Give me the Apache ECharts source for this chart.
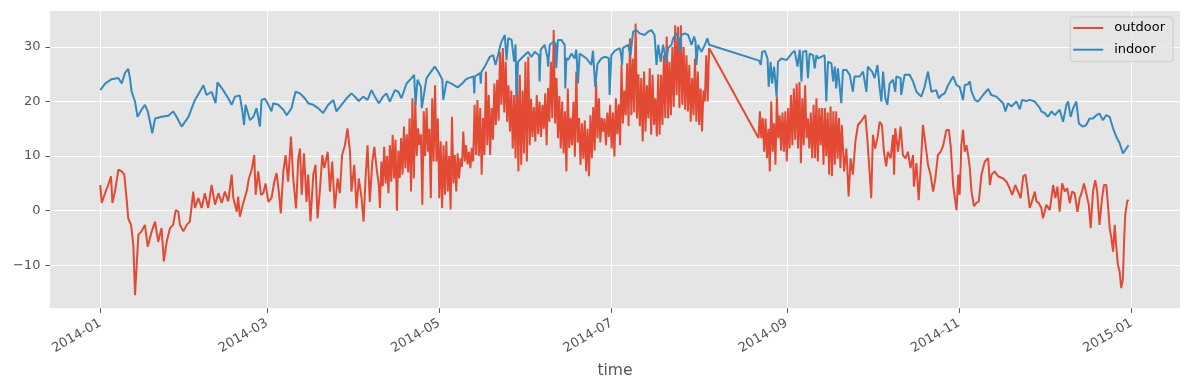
<!DOCTYPE html>
<html>
<head>
<meta charset="utf-8">
<script src="https://cdn.jsdelivr.net/npm/echarts@6/dist/echarts.min.js"></script>
<style>
html,body{margin:0;padding:0;background:#fff;}
#chart{width:1189px;height:390px;}
</style>
</head>
<body>
<div id="chart"></div>
<script>
// x values are days since 2014-01-01
const tickDays = [0, 59, 120, 181, 243, 304, 365];
const tickLabels = ['2014-01', '2014-03', '2014-05', '2014-07', '2014-09', '2014-11', '2015-01'];
const yTicks = [-10, 0, 10, 20, 30];
const seriesNames = ['outdoor', 'indoor'];

// outdoor, sparser stretches (Jan - early Apr, mid Sep - Dec)
const outdoorDays = [
0.0,0.5,1.7,2.8,3.8,4.3,5.2,6.4,7.6,8.5,9.3,9.9,10.9,11.7,12.3,12.9,13.5,14.6,15.8,16.8,18.2,19.4,20.5,21.7,22.5,23.5,24.7,25.8,26.7,27.6,28.2,29.4,30.6,31.7,32.9,33.5,34.7,35.9,37.0,38.2,39.4,40.6,41.8,43.0,44.1,45.3,46.5,47.1,48.3,48.8,49.4,
50.6,51.8,52.6,53.6,54.5,55.0,55.9,56.9,57.7,58.5,59.5,60.6,61.6,62.4,63.2,63.9,64.8,65.6,66.5,67.5,68.3,69.3,70.1,70.7,71.3,72.1,73.0,73.6,74.4,75.4,76.2,76.9,77.7,78.6,79.3,80.5,81.3,82.1,83.0,84.0,84.8,85.6,86.6,87.5,88.4,88.9,89.9,90.7,91.5,92.5,93.2,93.9,94.6,95.4,96.3,97.0,97.8,98.6,
262.5,263.3,264.1,264.9,265.6,266.4,267.3,268.2,269.2,270.0,270.8,271.5,272.3,272.9,273.5,274.3,275.1,275.9,276.7,277.4,278.2,278.8,279.8,280.6,281.0,281.4,282.4,283.3,284.1,285.0,285.9,286.8,287.7,288.0,288.9,289.7,290.4,291.2,292.0,293.0,293.9,294.8,295.6,296.5,
297.5,298.4,298.9,299.5,300.4,301.1,301.9,302.5,303.1,303.7,304.2,304.8,305.4,306.0,306.6,307.2,307.8,308.4,309.3,310.1,311.0,311.9,313.1,314.3,314.9,315.5,316.6,317.8,319.6,320.8,321.9,322.8,323.9,324.9,325.8,326.7,327.5,328.2,329.0,329.8,330.8,331.4,332.2,333.1,333.7,334.9,336.1,337.3,338.1,338.8,339.6,340.5,341.4,342.3,343.2,344.0,344.9,345.9,346.7,
347.5,348.2,349.0,349.9,350.6,351.4,352.2,352.9,353.7,354.6,355.3,356.1,356.7,357.3,357.9,358.5,359.1,359.6,360.2,360.8,361.4,362.0,362.4,362.8,363.5,364.0
];
const outdoorTemps = [
4.7,1.4,3.2,4.7,6.3,1.4,3.5,7.5,7.2,6.6,2.3,-1.4,-2.6,-6.3,-15.5,-9.9,-4.4,-3.8,-2.6,-6.6,-3.8,-2.0,-5.7,-3.2,-9.3,-5.7,-3.2,-2.6,0.1,-0.2,-2.6,-3.8,-2.6,-2.0,3.5,0.5,2.3,0.5,3.2,0.5,4.7,1.1,3.2,1.4,3.5,1.7,6.6,2.3,-0.2,2.6,-1.1,
1.4,3.5,5.9,7.5,10.2,2.9,7.2,2.9,3.2,5.0,1.6,2.3,5.3,6.9,3.5,-0.5,7.2,10.2,5.3,13.6,5.9,0.4,9.6,11.4,2.9,10.5,1.6,6.6,-2.0,6.6,8.4,-1.4,3.5,10.2,7.8,10.8,3.5,9.0,0.4,5.9,3.2,10.2,12.0,15.1,10.8,3.5,8.4,0.4,5.9,2.3,-2.0,5.9,12.0,1.6,9.0,11.7,7.8,4.7,
15.7,7.2,11.4,2.6,9.6,6.6,12.7,15.7,16.3,16.9,17.5,13.3,7.2,2.3,13.9,11.4,13.3,16.3,15.7,10.8,8.1,10.8,9.6,13.9,6.6,15.1,10.8,15.4,10.2,9.6,10.8,7.8,10.2,4.4,8.7,1.9,7.8,15.7,12.7,8.4,6.6,3.5,5.9,10.2,
10.8,12.0,13.3,14.8,14.8,11.4,4.7,2.3,0.1,6.6,2.9,12.0,14.8,10.8,12.0,10.2,7.8,3.5,0.8,1.4,1.7,6.6,9.0,9.6,4.7,6.6,7.2,6.3,5.9,5.3,4.1,2.9,4.7,3.5,2.3,6.3,6.6,4.1,0.5,1.7,3.5,1.7,1.4,0.5,-1.4,1.1,0.1,4.7,2.3,4.4,-0.2,5.0,3.5,4.1,1.4,3.5,3.2,-0.2,2.3,
3.5,5.0,3.2,1.1,-3.2,3.5,5.6,3.5,-2.6,2.3,4.7,4.7,1.1,-3.2,-5.0,-7.5,-2.6,-6.3,-9.9,-11.1,-14.2,-12.4,-5.7,-0.8,1.7,2.0
];

// outdoor, day/night swings: April - mid May  [day, temp]
const outdoorSpring = [
[99.0,0.5],[99.5,9.0],[100.0,4.5],[100.5,11.7],[101.0,5.0],[101.5,10.0],[102.0,3.2],[102.5,12.0],[103.0,5.3],[103.5,13.9],[104.0,5.9],[104.5,13.0],[105.0,0.0],[105.5,11.0],[106.0,6.0],[106.5,13.3],[107.0,6.6],[107.5,15.4],[108.0,7.8],[108.5,14.0],[109.0,7.0],[109.5,16.9],
[110.0,3.5],[110.5,20.6],[111.0,5.9],[111.5,20.0],[112.0,10.0],[112.5,15.1],[113.0,12.0],[113.5,14.0],[114.0,1.1],[114.5,18.2],[115.0,10.0],[115.5,18.8],[116.0,10.8],[116.5,15.0],[117.0,2.3],[117.5,20.6],[118.0,9.0],[118.5,23.0],[119.0,9.0],[119.5,16.9],
[120.0,2.3],[120.5,12.7],[121.0,0.5],[121.5,12.0],[122.0,2.9],[122.5,12.7],[123.0,3.5],[123.5,10.0],[124.0,0.2],[124.5,17.2],[125.0,5.0],[125.5,10.2],[126.0,3.5],[126.5,10.5],[127.0,5.9],[127.5,9.6],[128.0,8.0],[128.5,14.5],[129.0,9.0],[129.5,12.0],
[130.0,8.5],[130.5,10.8],[131.0,7.8],[131.5,11.5],[132.0,9.0],[132.5,19.4],[133.0,10.2],[133.5,20.3],[134.0,10.0],[134.5,18.8],[135.0,6.6],[135.5,17.0],[136.0,10.2],[136.5,25.5],[137.0,12.0],[137.5,21.2],[138.0,10.2],[138.5,18.8],[139.0,13.0],[139.5,23.3]
];
// outdoor, dense day/night swings: mid May - early Aug  [day, temp]
const outdoorSummer = [
[140.0,15.7],[140.5,24.0],[141.0,16.5],[141.5,29.1],[142.0,19.4],[142.5,29.8],[143.0,18.0],[143.5,27.3],[144.0,16.3],[144.5,23.0],[145.0,14.5],[145.5,22.0],[146.0,11.4],[146.5,21.2],[147.0,9.6],[147.5,25.5],[148.0,7.2],[148.5,24.9],[149.0,8.4],[149.5,22.0],
[150.0,10.5],[150.5,27.3],[151.0,9.0],[151.5,28.2],[152.0,12.0],[152.5,20.5],[153.0,13.5],[153.5,19.0],[154.0,12.7],[154.5,21.2],[155.0,14.0],[155.5,20.0],[156.0,13.5],[156.5,19.4],[157.0,15.0],[157.5,21.5],[158.0,12.0],[158.5,22.5],[159.0,16.3],[159.5,27.3],
[160.0,17.0],[160.5,33.1],[161.0,16.0],[161.5,24.3],[162.0,13.3],[162.5,21.0],[163.0,11.4],[163.5,20.0],[164.0,10.5],[164.5,18.2],[165.0,7.2],[165.5,22.4],[166.0,11.5],[166.5,17.0],[167.0,12.0],[167.5,20.0],[168.0,9.9],[168.5,25.5],[169.0,12.5],[169.5,17.0],
[170.0,8.4],[170.5,16.0],[171.0,9.5],[171.5,16.5],[172.0,7.2],[172.5,15.0],[173.0,6.3],[173.5,17.5],[174.0,9.6],[174.5,19.0],[175.0,11.0],[175.5,23.7],[176.0,13.3],[176.5,20.6],[177.0,12.5],[177.5,17.0],[178.0,14.5],[178.5,16.9],[179.0,12.0],[179.5,18.0],
[180.0,13.5],[180.5,19.4],[181.0,11.4],[181.5,18.0],[182.0,9.9],[182.5,20.6],[183.0,14.0],[183.5,19.5],[184.0,12.0],[184.5,26.7],[185.0,16.0],[185.5,22.0],[186.0,17.5],[186.5,27.0],[187.0,15.5],[187.5,31.6],[188.0,17.5],[188.5,27.9],[189.0,18.0],[189.5,34.3],
[190.0,16.9],[190.5,25.0],[191.0,15.5],[191.5,24.3],[192.0,12.7],[192.5,25.5],[193.0,14.5],[193.5,23.0],[194.0,16.9],[194.5,26.1],[195.0,13.9],[195.5,24.9],[196.0,15.7],[196.5,20.6],[197.0,13.6],[197.5,25.0],[198.0,13.9],[198.5,24.9],[199.0,15.7],[199.5,28.5],
[200.0,17.0],[200.5,31.9],[201.0,16.9],[201.5,27.3],[202.0,17.5],[202.5,30.0],[203.0,19.0],[203.5,34.0],[204.0,21.2],[204.5,33.7],[205.0,18.8],[205.5,34.0],[206.0,19.4],[206.5,30.0],[207.0,18.5],[207.5,28.5],[208.0,18.2],[208.5,26.7],[209.0,16.3],[209.5,24.3],
[210.0,17.5],[210.5,27.9],[211.0,16.3],[211.5,25.5],[212.0,15.7],[212.5,22.4],[213.0,14.5],[213.5,22.0],[214.0,20.0],[214.5,28.5],[215.0,20.0],[215.5,29.8]
];
// outdoor, late Aug - mid Sep after the logging gap  [day, temp]
const outdoorSeptember = [
[233.0,13.3],[233.5,18.2],[234.0,13.3],[234.5,17.0],[235.0,10.8],[235.5,16.9],[236.0,9.6],[236.5,15.0],[237.0,7.2],[237.5,20.0],[238.0,10.8],[238.5,16.0],[239.0,8.4],[239.5,20.9],
[240.0,13.3],[240.5,17.5],[241.0,11.0],[241.5,18.0],[242.0,10.8],[242.5,18.2],[243.0,9.0],[243.5,18.8],[244.0,11.4],[244.5,21.2],[245.0,12.0],[245.5,22.4],[246.0,13.0],[246.5,23.3],[247.0,11.4],[247.5,23.6],[248.0,8.7],[248.5,20.6],[249.0,12.0],[249.5,23.0],
[250.0,13.3],[250.5,16.9],[251.0,11.4],[251.5,18.0],[252.0,9.6],[252.5,19.4],[253.0,9.6],[253.5,20.6],[254.0,9.0],[254.5,18.8],[255.0,12.0],[255.5,18.8],[256.0,8.4],[256.5,18.8],[257.0,10.0],[257.5,18.0],[258.0,6.6],[258.5,19.1],[259.0,6.3],[259.5,18.2],
[260.0,8.4],[260.5,18.2],[261.0,9.5],[261.5,17.0],[262.0,7.8]
];

const indoorDays = [
0.0,1.7,4.0,6.4,7.6,8.7,9.9,10.5,11.1,12.3,13.2,14.6,15.8,16.8,17.6,18.4,19.4,21.7,24.1,25.8,27.0,28.8,31.2,33.5,35.9,36.5,37.6,39.4,40.8,41.5,43.5,45.3,46.5,47.7,49.4,
50.3,50.9,51.4,53.0,54.2,55.3,56.5,57.1,58.3,59.5,60.6,61.2,63.0,64.8,66.0,67.7,69.1,70.7,72.4,73.6,75.4,77.1,78.9,80.7,82.5,83.6,85.4,87.2,88.9,90.1,91.5,93.1,94.6,96.0,97.2,98.6,
100.1,101.3,102.5,104.3,105.5,106.6,108.4,110.2,111.1,111.6,112.3,113.5,113.8,115.5,116.7,118.4,119.6,121.1,121.4,122.6,124.3,126.5,128.1,129.3,130.2,132.1,132.4,132.6,134.4,134.7,134.9,136.1,137.9,139.1,139.9,140.8,141.8,143.2,143.8,144.4,145.6,146.5,147.0,147.3,147.9,
149.6,151.4,152.6,153.8,155.3,155.5,155.9,157.3,158.3,158.5,159.1,160.6,161.2,161.4,162.0,163.2,164.4,164.6,165.0,165.6,166.8,167.9,168.5,169.1,169.7,170.3,172.1,173.8,174.4,175.2,176.0,177.4,178.5,180.0,180.3,180.9,182.1,183.9,184.4,184.7,185.0,185.6,186.8,187.7,188.6,189.8,190.9,192.7,193.9,195.1,196.2,
196.9,197.5,198.4,199.2,200.4,201.0,202.2,202.8,204.0,204.8,205.1,205.7,206.9,208.1,209.3,210.2,210.7,211.0,211.6,212.8,214.0,214.9,215.5,
233.2,233.8,234.3,235.2,236.2,236.6,237.3,237.8,238.5,239.4,239.9,241.1,242.9,244.7,245.8,246.8,247.6,
248.2,248.7,249.9,250.5,251.1,252.3,252.9,253.5,254.1,255.2,256.4,257.0,257.6,258.8,259.4,260.0,260.5,261.1,262.3,262.9,264.1,265.3,266.4,267.0,268.8,270.0,271.2,271.7,273.2,274.1,275.1,275.9,276.5,277.1,277.9,278.6,279.4,280.6,281.4,281.8,283.3,283.5,284.7,286.5,287.7,288.9,290.6,291.8,293.0,294.2,295.9,296.8,
297.8,298.9,300.1,301.9,303.1,304.2,305.4,306.0,307.2,307.8,308.4,309.6,310.7,312.5,314.3,315.4,317.2,318.4,319.6,320.4,321.3,322.5,324.3,325.5,326.3,327.8,329.0,330.8,332.6,333.1,334.3,335.5,336.7,337.9,339.6,340.8,342.0,342.6,343.5,344.4,345.5,346.4,
347.8,349.0,350.2,351.4,352.6,353.7,354.9,356.1,357.3,358.5,359.6,360.8,362.0,362.6,363.2,364.0
];
const indoorTemps = [
22.1,23.3,24.1,24.3,23.3,25.2,26.0,24.3,21.8,20.0,17.2,18.5,19.4,18.2,16.3,14.2,16.9,17.2,17.4,18.2,17.2,15.4,17.2,20.3,22.4,23.0,21.2,21.8,19.7,23.5,22.1,20.6,19.4,20.9,21.1,
18.2,15.7,19.4,16.6,17.2,18.8,15.4,20.3,20.5,19.4,18.2,19.7,19.4,18.5,17.5,18.8,21.8,21.5,20.6,19.7,19.4,18.8,17.9,19.4,20.3,18.2,19.4,20.6,21.5,20.9,20.1,20.9,20.3,22.1,20.9,19.7,
20.9,21.5,20.0,22.1,21.8,20.6,23.3,24.3,24.9,19.4,24.0,22.7,18.8,24.3,25.2,26.4,25.5,24.0,20.3,23.7,23.3,22.6,23.3,24.0,24.3,24.6,21.5,24.6,25.2,23.3,25.4,26.4,28.2,28.5,26.7,28.5,30.7,32.2,27.6,31.6,31.3,27.3,30.5,20.9,27.3,
28.2,29.1,28.2,29.1,28.5,23.7,29.5,30.4,28.0,26.4,30.4,31.0,30.5,26.1,31.3,31.3,30.4,22.4,28.0,27.6,28.8,27.9,29.5,23.3,28.8,28.5,27.9,26.7,29.3,22.7,26.9,27.9,28.2,28.0,21.2,28.5,29.3,29.8,28.5,26.7,29.8,30.1,30.4,28.5,32.8,33.1,32.5,32.2,32.8,33.1,32.2,
26.7,30.4,27.3,30.4,27.3,29.8,30.4,31.6,32.5,31.5,29.1,32.2,32.5,32.2,30.4,31.9,31.0,26.7,30.4,29.1,30.4,31.6,30.4,
27.5,26.7,29.1,29.3,27.9,22.7,27.3,23.3,26.4,20.9,27.3,27.9,27.6,28.8,29.3,26.4,29.5,
23.7,29.1,29.3,24.3,28.8,28.5,26.1,28.5,27.9,28.2,28.5,20.0,27.3,27.0,23.7,26.4,22.4,26.1,19.7,25.8,25.8,24.9,21.8,24.6,24.6,25.5,21.8,26.4,25.5,24.3,26.7,22.4,20.0,25.5,20.6,19.4,23.3,24.0,21.8,24.6,24.3,21.2,24.9,24.9,23.7,21.8,20.9,22.7,25.5,21.8,22.1,20.6,
21.2,21.5,23.0,24.6,23.0,22.7,20.3,23.0,23.2,23.7,21.8,20.3,20.0,21.2,22.3,21.2,20.9,20.3,19.7,18.2,19.7,19.1,20.0,18.6,20.3,20.1,20.3,20.0,18.8,18.2,17.9,17.2,18.2,17.5,18.5,16.3,19.4,20.0,17.2,18.8,20.0,16.0,
15.4,15.7,16.9,16.9,17.5,17.8,16.6,17.5,17.2,15.1,13.6,12.4,10.5,10.8,11.4,12.0
];

const FONT = 'DejaVu Sans';
const chart = echarts.init(document.getElementById('chart'), null, {renderer: 'canvas'});
const pair = (xs, ys) => xs.map((x, i) => [x, ys[i]]);
const outdoorData = pair(outdoorDays, outdoorTemps)
  .concat(outdoorSpring, outdoorSummer, outdoorSeptember)
  .sort((a, b) => a[0] - b[0]);
const indoorData = pair(indoorDays, indoorTemps);

chart.setOption({
  animation: false,
  backgroundColor: '#ffffff',
  grid: {
    left: 50, top: 11, right: 9, bottom: 81.7,
    show: true, backgroundColor: '#E5E5E5', borderWidth: 0,
    containLabel: false, outerBoundsMode: 'none'
  },
  legend: {
    orient: 'vertical', right: 16, top: 17,
    data: seriesNames,
    icon: 'rect', itemWidth: 30, itemHeight: 2, itemGap: 5.7,
    padding: [3, 8, 4, 3],
    backgroundColor: 'rgba(229,229,229,0.8)', borderColor: '#cccccc', borderWidth: 1, borderRadius: 3,
    textStyle: { fontFamily: FONT, fontSize: 13, color: '#000', lineHeight: 16, padding: [0, 0, 0, 6] }
  },
  xAxis: {
    type: 'value', min: -17.8, max: 382.2,
    name: 'time', nameLocation: 'middle', nameGap: 55,
    nameTextStyle: { fontFamily: FONT, fontSize: 15.6, color: '#555555' },
    axisLine: { show: false, onZero: false },
    axisTick: { show: true, customValues: tickDays, length: 4.6, lineStyle: { color: '#555555', width: 1 } },
    axisLabel: {
      customValues: tickDays, rotate: 30, margin: 14,
      fontFamily: FONT, fontSize: 13, color: '#555555',
      formatter: v => tickLabels[tickDays.indexOf(v)]
    },
    splitLine: { show: true, lineStyle: { color: '#ffffff', width: 1 } }
  },
  yAxis: {
    type: 'value', min: -17.9, max: 36.6,
    axisLine: { show: false, onZero: false },
    axisTick: { show: true, customValues: yTicks, length: 4.6, lineStyle: { color: '#555555', width: 1 } },
    axisLabel: {
      customValues: yTicks, margin: 9.5,
      fontFamily: FONT, fontSize: 13, color: '#555555',
      formatter: v => (v < 0 ? '\u2212' + Math.abs(v) : String(v))
    },
    splitLine: { show: true, lineStyle: { color: '#ffffff', width: 1 } }
  },
  series: [
    {
      name: seriesNames[0], type: 'line', data: outdoorData,
      showSymbol: false, symbol: 'none', color: '#E24A33',
      lineStyle: { color: '#E24A33', width: 2 }, z: 2
    },
    {
      name: seriesNames[1], type: 'line', data: indoorData,
      showSymbol: false, symbol: 'none', color: '#348ABD',
      lineStyle: { color: '#348ABD', width: 2 }, z: 3
    }
  ]
});
</script>
</body>
</html>
